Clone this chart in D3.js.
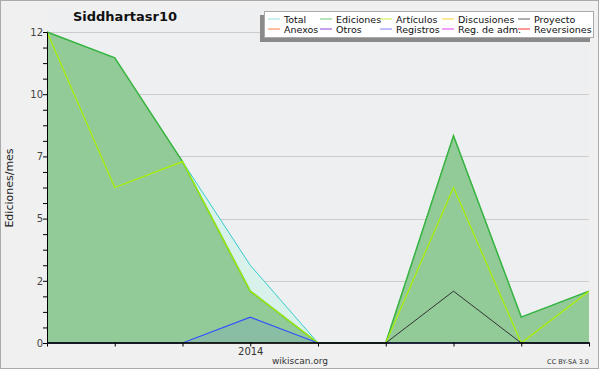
<!DOCTYPE html>
<html><head><meta charset="utf-8">
<script src="https://cdn.jsdelivr.net/npm/d3@7"></script>
<style>body{margin:0;background:#fff}svg{display:block}text{font-family:"DejaVu Sans",sans-serif}</style>
</head><body><svg id="c" width="600" height="370"></svg>
<script>
const months = ["2013-10","2013-11","2013-12","2014-01","2014-02","2014-03","2014-04","2014-05","2014-06"];
const xTickLabels = {"2014-01":"2014"};
const total      = [12, 11, 7, 3, 0, 0, 8, 1, 2];
const ediciones  = [12, 11, 7, 2, 0, 0, 8, 1, 2];
const articulos  = [12, 6, 7, 2, 0, 0, 6, 0, 2];
const registros  = [0, 0, 0, 1, 0, 0, 0, 0, 0];
const proyecto   = [0, 0, 0, 0, 0, 0, 2, 0, 0];
const yMax = 12;
const yTicks = [0, 2.4, 4.8, 7.2, 9.6, 12];
const legendItems = [
  ["Total","#9adede"],["Ediciones","#72c872"],["Artículos","#c8f040"],["Discusiones","#ffd030"],["Proyecto","#606060"],
  ["Anexos","#ff8040"],["Otros","#9040e0"],["Registros","#8080ff"],["Reg. de adm.","#e040f0"],["Reversiones","#ff3030"]
];

const svg = d3.select("#c");
const L = 47, R = 589, T = 32, B = 343;
svg.append("rect").attr("x",0.5).attr("y",0.5).attr("width",598).attr("height",368).attr("fill","#f0f0f0").attr("stroke","#aaaaaa");
svg.append("rect").attr("x",L).attr("y",10).attr("width",R-L).attr("height",B-10).attr("fill","#eeeff1");

const x = d3.scalePoint().domain(months).range([L, R]);
const y = d3.scaleLinear().domain([0, yMax]).range([B, T]);

// grid
svg.append("g").selectAll("line").data(yTicks.filter(d=>d>0)).join("line")
  .attr("x1",L).attr("x2",R).attr("y1",d=>Math.round(y(d))+0.5).attr("y2",d=>Math.round(y(d))+0.5)
  .attr("stroke","#cccccc");

const area = vals => d3.area().x((d,i)=>x(months[i])).y0(B).y1(d=>y(d))(vals);
const line = vals => d3.line().x((d,i)=>x(months[i])).y(d=>y(d))(vals);

svg.append("path").attr("d",area(total)).attr("fill","#d8f1ea");
svg.append("path").attr("d",area(ediciones)).attr("fill","#93cb98");
svg.append("path").attr("d",area(registros)).attr("fill","#4060ff").attr("fill-opacity",0.12);

svg.append("path").attr("d",line(total)).attr("fill","none").attr("stroke","#38cccc").attr("stroke-width",1);
svg.append("path").attr("d",line(ediciones)).attr("fill","none").attr("stroke","#3cb43c").attr("stroke-width",1.5);
svg.append("path").attr("d",line(articulos)).attr("fill","none").attr("stroke","#aaf000").attr("stroke-width",1.2);
svg.append("path").attr("d",line(registros)).attr("fill","none").attr("stroke","#3050ff").attr("stroke-width",1.2);
svg.append("path").attr("d",line(proyecto)).attr("fill","none").attr("stroke","#333333").attr("stroke-width",1);

// axes
const yAxis = d3.axisLeft(y).tickValues(d3.range(0, yMax+0.001, 0.6)).tickSize(4)
  .tickFormat(d => { const m = yTicks.find(t=>Math.abs(t-d)<1e-6); return m===undefined ? "" : d3.format(".0f")(m); });
const gy = svg.append("g").attr("transform",`translate(${L},0)`).call(yAxis);
gy.select(".domain").attr("stroke","#000");
gy.selectAll("line").attr("stroke","#000");
gy.selectAll("text").attr("fill","#444").attr("font-size",10).attr("x",-4);

const xAxis = d3.axisBottom(x).tickSize(4).tickSizeOuter(0).tickFormat(d => xTickLabels[d] || "");
const gx = svg.append("g").attr("transform",`translate(0,${B-0.5})`).call(xAxis);
gx.select(".domain").attr("stroke","#000").attr("stroke-width",1.6);
gx.selectAll("line").attr("stroke","#000");
gx.selectAll("text").attr("fill","#333").attr("font-size",10).attr("dy","0.55em");

svg.append("text").attr("x",125).attr("y",21).attr("text-anchor","middle").attr("font-size",13).attr("font-weight","bold").attr("fill","#111").text("Siddhartasr10");
svg.append("text").attr("transform","translate(13,188) rotate(-90)").attr("text-anchor","middle").attr("font-size",11).attr("fill","#222").text("Ediciones/mes");
svg.append("text").attr("x",300).attr("y",364).attr("text-anchor","middle").attr("font-size",9).attr("fill","#333").text("wikiscan.org");
svg.append("text").attr("x",589).attr("y",364).attr("text-anchor","end").attr("font-size",6.5).attr("fill","#333").text("CC BY-SA 3.0");

// legend
const lg = svg.append("g");
lg.append("rect").attr("x",260).attr("y",15).attr("width",330).attr("height",27).attr("fill","#8a8a8a");
lg.append("rect").attr("x",264.5).attr("y",11.5).attr("width",329).attr("height",26).attr("fill","#ffffff").attr("stroke","#aaaaaa");
const colX = [268, 320, 380, 442, 518];
legendItems.forEach((it,i)=>{
  const c = i%5, r = Math.floor(i/5);
  const yy = 19 + r*10;
  lg.append("line").attr("x1",colX[c]).attr("x2",colX[c]+12).attr("y1",yy).attr("y2",yy).attr("stroke",it[1]).attr("stroke-width",1);
  lg.append("text").attr("x",colX[c]+16).attr("y",yy+3.5).attr("font-size",9.5).attr("fill","#111").text(it[0]);
});
</script></body></html>
